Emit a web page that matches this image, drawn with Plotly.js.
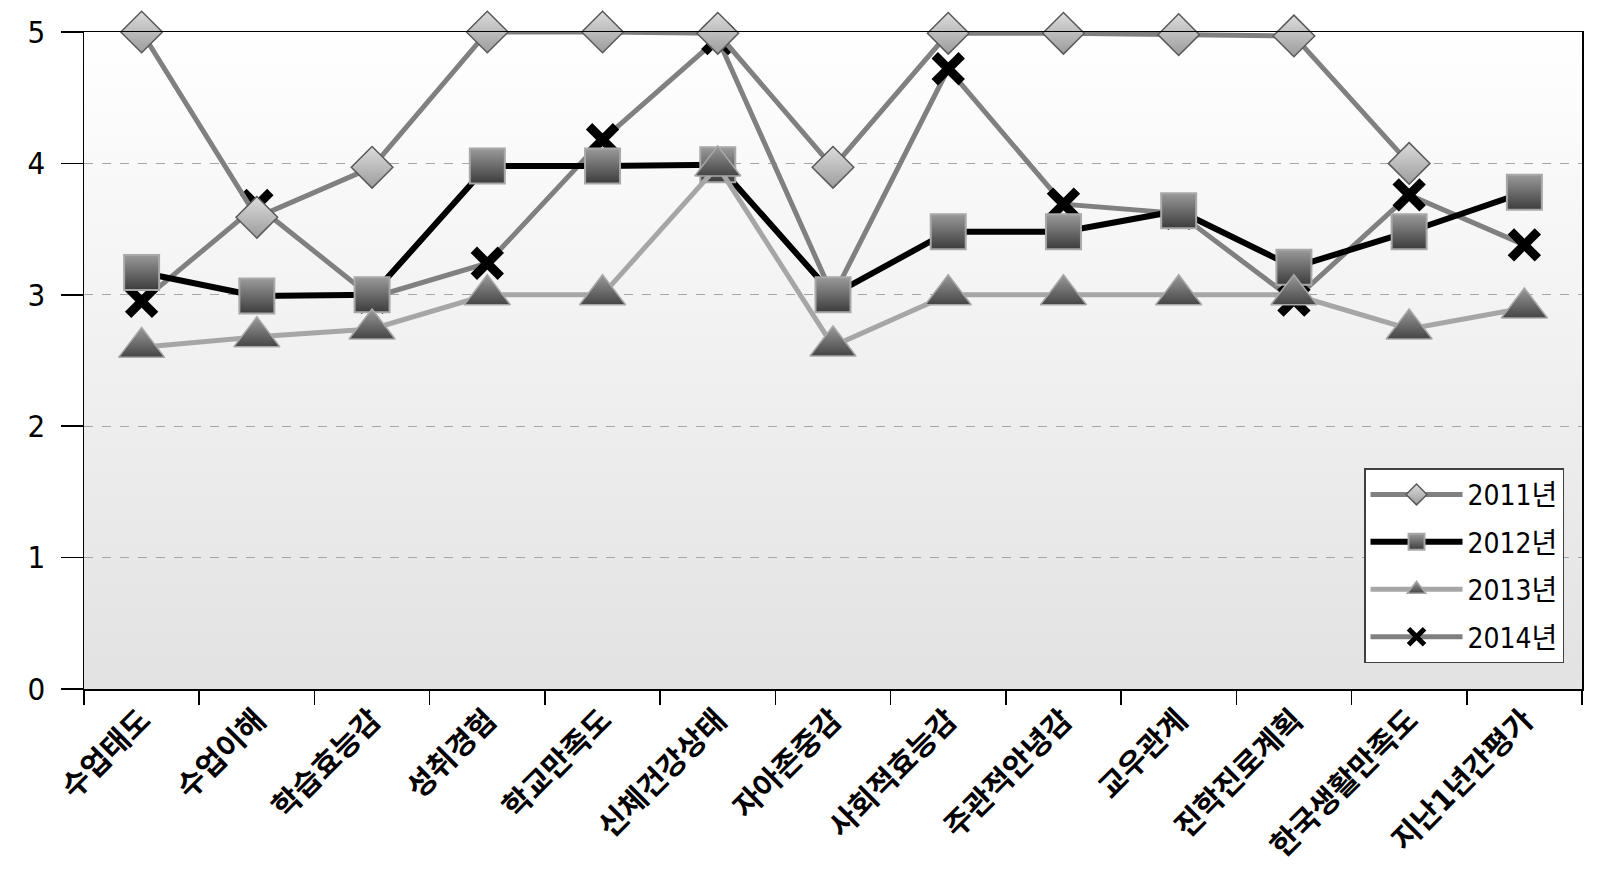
<!DOCTYPE html>
<html>
<head>
<meta charset="utf-8">
<script src="https://cdn.plot.ly/plotly-3.0.1.min.js"></script>
<style>
  html, body { margin: 0; padding: 0; background: #ffffff; }
  #chart { width: 1606px; height: 886px; }
</style>
</head>
<body>
<div id="chart"></div>
<script>
const categories = ['수업태도','수업이해','학습효능감','성취경험','학교만족도','신체건강상태','자아존중감','사회적효능감','주관적안녕감','교우관계','진학진로계획','한국생활만족도','지난1년간평가'];
const seriesNames = ['2011년','2012년','2013년','2014년'];
const y2011 = [5.00, 3.59, 3.97, 5.00, 5.00, 4.99, 3.97, 4.99, 4.99, 4.98, 4.97, 4.00, null];
const y2012 = [3.17, 2.99, 3.00, 3.98, 3.98, 3.99, 3.00, 3.48, 3.48, 3.64, 3.21, 3.48, 3.78];
const y2013 = [2.60, 2.68, 2.74, 3.00, 3.00, 3.98, 2.61, 3.00, 3.00, 3.00, 3.00, 2.74, 2.90];
const y2014 = [2.95, 3.68, 2.98, 3.24, 4.18, 4.95, 2.99, 4.72, 3.69, 3.62, 2.96, 3.76, 3.38];
const yTicks = [0, 1, 2, 3, 4, 5];

const numFont = '"DejaVu Sans Condensed", "DejaVu Sans", "Liberation Sans", Arial, sans-serif';
const korFont = '"DejaVu Sans Condensed", "Noto Sans CJK KR", "Liberation Sans", sans-serif';

const t2011 = {
  x: categories, y: y2011, name: seriesNames[0], type: 'scatter', mode: 'lines+markers',
  legendrank: 1, legendgroup: 'g1', cliponaxis: false,
  line: {color: '#808080', width: 5},
  marker: {symbol: 'diamond', size: 32, color: '#dcdcdc',
           gradient: {type: 'vertical', color: '#9c9c9c'},
           line: {color: '#595959', width: 1.5}}
};
const t2012 = {
  x: categories, y: y2012, name: seriesNames[1], type: 'scatter', mode: 'lines+markers',
  legendrank: 2, legendgroup: 'g2', cliponaxis: false,
  line: {color: '#000000', width: 6},
  marker: {symbol: 'square', size: 35, color: '#9a9a9a',
           gradient: {type: 'vertical', color: '#3c3c3c'},
           line: {color: '#a8a8a8', width: 2}}
};
const t2013 = {
  x: categories, y: y2013, name: seriesNames[2], type: 'scatter', mode: 'lines+markers',
  legendrank: 3, legendgroup: 'g3', cliponaxis: false,
  line: {color: '#a6a6a6', width: 5},
  marker: {symbol: 'triangle-up', size: 40, color: '#9a9a9a',
           gradient: {type: 'vertical', color: '#454545'},
           line: {color: '#a8a8a8', width: 1.5}}
};
const t2014 = {
  x: categories, y: y2014, name: seriesNames[3], type: 'scatter', mode: 'lines+markers',
  legendrank: 4, legendgroup: 'g4', cliponaxis: false,
  line: {color: '#808080', width: 5},
  marker: {symbol: 'x-thin', size: 27, color: '#000000',
           line: {color: '#000000', width: 9}}
};

const svg = "<svg xmlns='http://www.w3.org/2000/svg' width='10' height='100' preserveAspectRatio='none'>" +
  "<defs><linearGradient id='g' x1='0' y1='0' x2='0' y2='1'>" +
  "<stop offset='0' stop-color='#ffffff'/><stop offset='1' stop-color='#e2e2e2'/>" +
  "</linearGradient></defs><rect width='10' height='100' fill='url(#g)'/></svg>";
const bgSrc = 'data:image/svg+xml;base64,' + btoa(svg);

const layout = {
  width: 1606, height: 886,
  margin: {l: 84, r: 24, t: 32, b: 197, pad: 0},
  paper_bgcolor: '#ffffff',
  plot_bgcolor: 'rgba(0,0,0,0)',
  showlegend: true,
  images: [{source: bgSrc, xref: 'paper', yref: 'paper', x: 0, y: 1, sizex: 1, sizey: 1,
            xanchor: 'left', yanchor: 'top', sizing: 'stretch', layer: 'below'}],
  xaxis: {
    type: 'category', categoryorder: 'array', categoryarray: categories,
    range: [-0.5, categories.length - 0.5], autorange: false,
    showline: true, linecolor: '#000000', linewidth: 1.5, mirror: true,
    ticks: 'outside', tickson: 'boundaries', ticklen: 14, tickcolor: '#000000', tickwidth: 1.5,
    tickangle: -45, showgrid: false, zeroline: false,
    tickfont: {family: korFont, size: 30, weight: 'bold', color: '#000000'}
  },
  yaxis: {
    range: [0, 5], autorange: false, tickvals: yTicks, ticktext: yTicks.map(String),
    showline: true, linecolor: '#000000', linewidth: 1.5, mirror: true,
    ticks: 'outside', ticklen: 22, tickcolor: '#000000', tickwidth: 1.5,
    ticklabelstandoff: 9,
    showgrid: true, gridcolor: '#a6a6a6', gridwidth: 1, griddash: 'dash',
    zeroline: false,
    tickfont: {family: numFont, size: 31, color: '#000000'}
  },
  legend: {
    x: 0.988, y: 0.336, xanchor: 'right', yanchor: 'top',
    bgcolor: '#ffffff', bordercolor: '#404040', borderwidth: 1.5,
    font: {family: korFont, size: 28, color: '#000000'},
    traceorder: 'grouped', tracegroupgap: 8, itemwidth: 92
  }
};

Plotly.newPlot('chart', [t2014, t2012, t2013, t2011], layout, {displayModeBar: false, staticPlot: true});
</script>
</body>
</html>
